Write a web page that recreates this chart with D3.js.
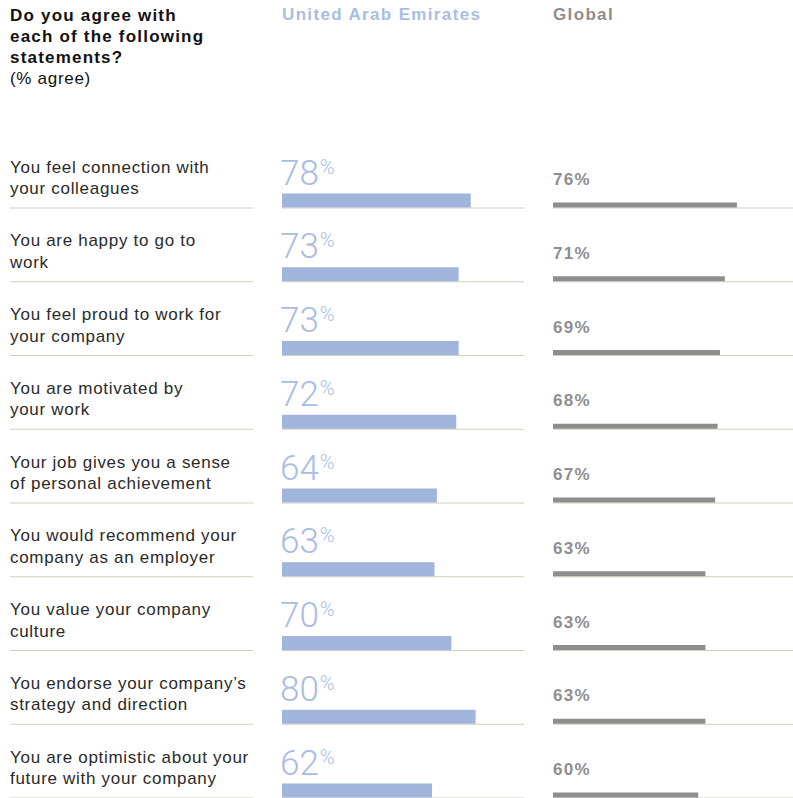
<!DOCTYPE html>
<html><head><meta charset="utf-8">
<script src="https://cdn.jsdelivr.net/npm/d3@7"></script>
<style>
html,body{margin:0;padding:0;background:#fff;}
svg{display:block;font-family:"Liberation Sans",Arial,Helvetica,sans-serif;}
</style></head>
<body><svg id="c" width="793" height="798"></svg>
<script>
const categories = [
  ["You feel connection with","your colleagues"],
  ["You are happy to go to","work"],
  ["You feel proud to work for","your company"],
  ["You are motivated by","your work"],
  ["Your job gives you a sense","of personal achievement"],
  ["You would recommend your","company as an employer"],
  ["You value your company","culture"],
  ["You endorse your company’s","strategy and direction"],
  ["You are optimistic about your","future with your company"]
];
const uaeValues = [78,73,73,72,64,63,70,80,62];
const globalValues = [76,71,69,68,67,63,63,63,60];
const titleLines = ["Do you agree with","each of the following","statements?"];
const subtitle = "(% agree)";
const seriesNames = ["United Arab Emirates","Global"];

const C_UAE = "#a1b5dc", C_UAE_T = "#a9bde3", C_GL = "#8e8e8e", C_LINE = "#cfcfc0";
const svg = d3.select("#c");
const idx = categories.map((d,i)=>i);
const y = d3.scaleBand().domain(idx).range([134.25, 798]).paddingInner(0);
const x = d3.scaleLinear().domain([0,100]).range([0,242]);
const uaeX = 282, glX = 553, labX = 10;

// title
const t = svg.append("text").attr("x",labX).attr("font-size",17).attr("font-weight","bold").attr("fill","#111").attr("letter-spacing",1.2);
titleLines.forEach((l,i)=>t.append("tspan").attr("x",labX).attr("y",20.5+i*21.3).text(l));
svg.append("text").attr("x",labX).attr("y",20.5+3*21.3).attr("font-size",17).attr("letter-spacing",0.7).attr("fill","#111").text(subtitle);
svg.append("text").attr("x",uaeX).attr("y",19.5).attr("font-size",17).attr("font-weight","bold").attr("letter-spacing",1.35).attr("fill",C_UAE_T).text(seriesNames[0]);
svg.append("text").attr("x",glX).attr("y",19.5).attr("font-size",17).attr("font-weight","bold").attr("letter-spacing",1.35).attr("fill",C_GL).text(seriesNames[1]);

const rows = svg.selectAll("g.row").data(idx).join("g").attr("class","row")
  .attr("transform",i=>`translate(0,${y(i)+y.bandwidth()})`);

// separator lines
rows.append("line").attr("x1",labX).attr("x2",253).attr("y1",0).attr("y2",0).attr("stroke",C_LINE).attr("stroke-width",1.2);
rows.append("line").attr("x1",uaeX).attr("x2",uaeX+x(100)).attr("y1",0).attr("y2",0).attr("stroke",C_LINE).attr("stroke-width",1.2);
rows.append("line").attr("x1",glX).attr("x2",glX+x(100)).attr("y1",0).attr("y2",0).attr("stroke",C_LINE).attr("stroke-width",1.2);

// labels
rows.each(function(i){
  const g = d3.select(this);
  const tx = g.append("text").attr("font-size",17).attr("letter-spacing",0.7).attr("fill","#2a2a2a");
  categories[i].forEach((l,k)=>tx.append("tspan").attr("x",labX).attr("y",-35.5+k*21.7).text(l));
});

// UAE bars
rows.append("rect").attr("x",uaeX).attr("y",-14.5).attr("height",14).attr("width",i=>x(uaeValues[i])).attr("fill",C_UAE);
const ut = rows.append("text").attr("x",uaeX-2).attr("y",-23.5).attr("fill",C_UAE_T)
  .attr("font-family","Roboto, 'Liberation Sans', sans-serif").attr("font-weight",300);
ut.append("tspan").attr("font-size",35).text(i=>uaeValues[i]);
ut.append("tspan").attr("font-size",20).attr("dy",-11).attr("dx",1).text("%");

// Global bars
rows.append("rect").attr("x",glX).attr("y",-5.5).attr("height",5).attr("width",i=>x(globalValues[i])).attr("fill",C_GL);
rows.append("text").attr("x",glX).attr("y",-23).attr("font-size",17).attr("font-weight","bold").attr("letter-spacing",1.3).attr("fill",C_GL)
  .text(i=>globalValues[i]+"%");
</script></body></html>
